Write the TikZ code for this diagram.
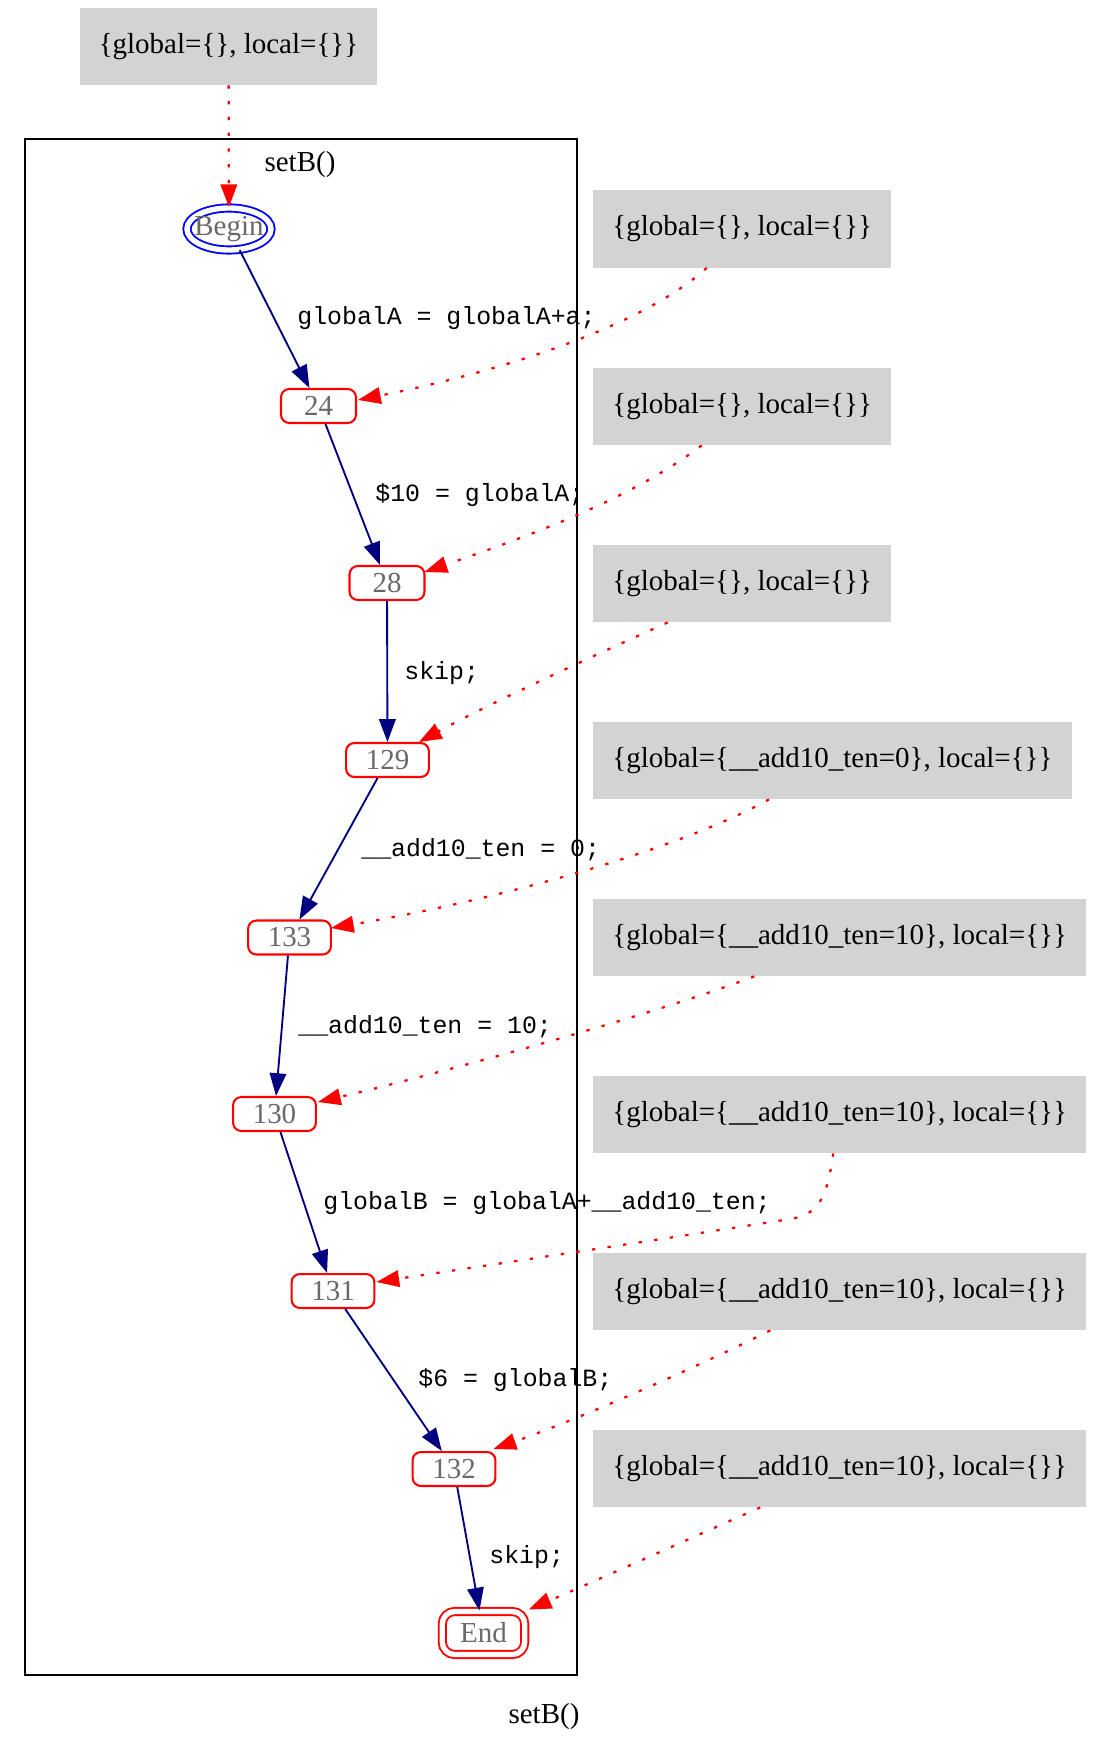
\documentclass[tikz,border=0pt]{standalone}
\usepackage{fontspec}
\setmainfont{Liberation Serif}
\setmonofont{Liberation Mono}
\usetikzlibrary{calc,arrows.meta,shapes.geometric}
\definecolor{navyblue}{RGB}{0,0,128}
\definecolor{stategray}{RGB}{211,211,211}
\definecolor{labelgray}{RGB}{105,105,105}

\begin{document}
\begin{tikzpicture}[x=0.483pt,y=-0.483pt,
    loc/.style={draw=red,line width=1pt,rounded corners=4pt,minimum width=36.2pt,minimum height=16.4pt,
      inner xsep=9.5pt,inner ysep=0pt,text=labelgray,font=\fontsize{14}{16}\selectfont},
    state/.style={fill=stategray,minimum height=37.2pt,inner xsep=9.2pt,inner ysep=0pt,font=\fontsize{14}{16}\selectfont},
    stmt/.style={anchor=west,inner sep=0pt,font=\ttfamily\fontsize{12}{14}\selectfont},
    flow/.style={navyblue,line width=0.9pt,-{Triangle[length=11pt,width=8pt]}},
    annot/.style={red,line width=1.1pt,dash pattern=on 1.6pt off 6pt,-{Triangle[length=11pt,width=8pt]}}]
          \path[fill=white] (0,0) rectangle (1094,1748);
          % cluster
          \draw[line width=1pt] (25,139) rectangle (577,1675);
          \node[font=\fontsize{14}{16}\selectfont] (title) at (300,165) {setB()};
          \node[font=\fontsize{14}{16}\selectfont] (caption) at (544,1717) {setB()};
          % locations
          \node[draw=blue,double=white,double distance=2.6pt,line width=0.9pt,ellipse,minimum width=40.6pt,
            minimum height=20.3pt,inner sep=0pt,text=labelgray,font=\fontsize{14}{16}\selectfont] (begin) at (229,229) {\makebox[0pt]{Begin}};
          \node[loc] (n24) at (318.5,406) {24};
          \node[loc] (n28) at (387,583) {28};
          \node[loc] (n129) at (387.5,760) {129};
          \node[loc] (n133) at (289.5,937.5) {133};
          \node[loc] (n130) at (274.5,1114) {130};
          \node[loc] (n131) at (333,1291) {131};
          \node[loc] (n132) at (454,1469) {132};
          \node[loc,double=white,double distance=2.6pt,line width=0.9pt,minimum width=39.8pt,minimum height=20.8pt,
            inner xsep=4pt,rounded corners=6pt] (end) at (483.5,1633) {End};
          % statements
          \node[stmt] (l1) at (297,318) {globalA = globalA+a;};
          \node[stmt] (l2) at (375,495) {\$10 = globalA;};
          \node[stmt] (l3) at (404,673) {skip;};
          \node[stmt] (l4) at (361,850) {\_\_add10\_ten = 0;};
          \node[stmt] (l5) at (298,1027) {\_\_add10\_ten = 10;};
          \node[stmt] (l6) at (323,1203) {globalB = globalA+\_\_add10\_ten;};
          \node[stmt] (l7) at (418,1380) {\$6 = globalB;};
          \node[stmt] (l8) at (489,1557) {skip;};
          \draw[flow] (begin) -- (n24);
          \draw[flow] (n24) -- (n28);
          \draw[flow] (n28) -- (n129);
          \draw[flow] (n129) -- (n133);
          \draw[flow] (n133) -- (n130);
          \draw[flow] (n130) -- (n131);
          \draw[flow] (n131) -- (n132);
          \draw[flow] (n132) -- (end);
          % states
          \node[state] (s0) at (228.5,46.5) {\{global=\{\}, local=\{\}\}};
          \node[state,anchor=west] (s1) at (593,229) {\{global=\{\}, local=\{\}\}};
          \node[state,anchor=west] (s2) at (593,406.5) {\{global=\{\}, local=\{\}\}};
          \node[state,anchor=west] (s3) at (593,583.5) {\{global=\{\}, local=\{\}\}};
          \node[state,anchor=west] (s4) at (593,760.5) {\{global=\{\_\_add10\_ten=0\}, local=\{\}\}};
          \node[state,anchor=west] (s5) at (593,937.5) {\{global=\{\_\_add10\_ten=10\}, local=\{\}\}};
          \node[state,anchor=west] (s6) at (593,1114.5) {\{global=\{\_\_add10\_ten=10\}, local=\{\}\}};
          \node[state,anchor=west] (s7) at (593,1291.5) {\{global=\{\_\_add10\_ten=10\}, local=\{\}\}};
          \node[state,anchor=west] (s8) at (593,1468.5) {\{global=\{\_\_add10\_ten=10\}, local=\{\}\}};
          \coordinate (k6) at (790,1219);
          \draw[annot] (s0) -- (begin);
          \draw[annot] ($(s1.south)+(-35.5,0)$) .. controls +(-70,63) and +(130,-26) .. ($(n24.east)+(1,-6)$);
          \draw[annot] ($(s2.south)+(-40.5,0)$) .. controls +(-70,53) and +(110,-38) .. ($(n28.east)+(-1,-11)$);
          \draw[annot] ($(s3.south)+(-74.5,0)$) .. controls +(-80,36) and +(70,-38) .. ($(n129.north east)+(-11,0)$);
          \draw[annot] ($(s4.south)+(-63.5,0)$) .. controls +(-100,55) and +(150,-25) .. ($(n133.east)+(-1,-9.5)$);
          \draw[annot] ($(s5.south)+(-85.5,0)$) .. controls +(-100,38) and +(120,-28) .. ($(n130.east)+(1,-12)$);
          \draw[annot] ($(s6.south)+(-6.5,0)$) .. controls +(-6,45) and +(28,-4) .. (k6)
            .. controls +(-120,19) and +(120,-18) .. ($(n131.east)+(1,-9)$);
          \draw[annot] ($(s7.south)+(-69.5,0)$) .. controls +(-80,40) and +(80,-28) .. ($(n132.north east)+(-3,-2)$);
          \draw[annot] ($(s8.south)+(-79.5,0)$) .. controls +(-70,31) and +(70,-30) .. ($(end.north east)+(3,-1)$);
        \end{tikzpicture}
\end{document}
